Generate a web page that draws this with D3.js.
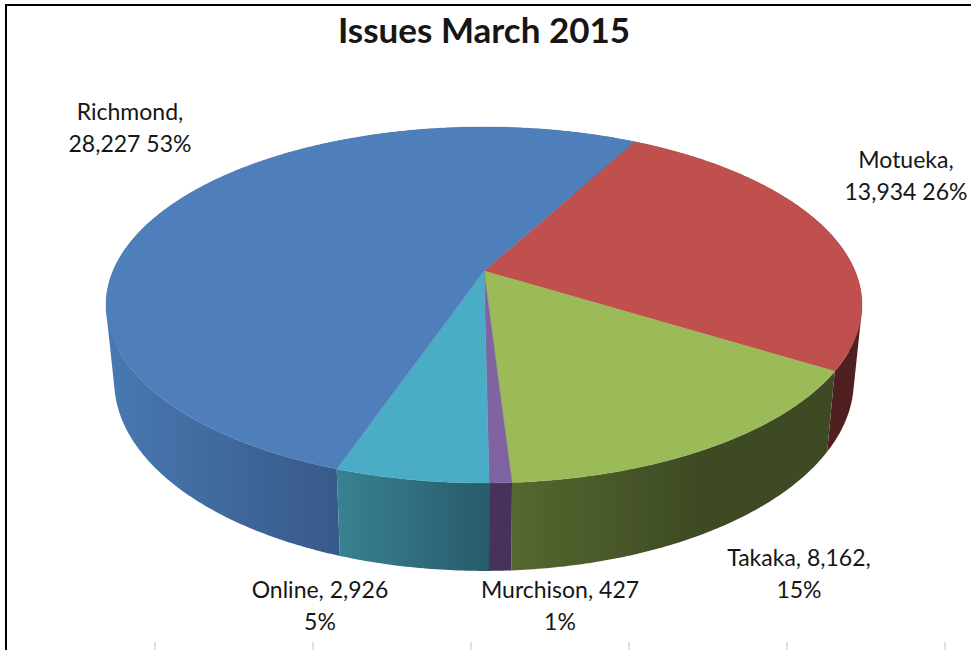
<!DOCTYPE html>
<html>
<head>
<meta charset="utf-8">
<title>Issues March 2015</title>
<script src="https://cdn.jsdelivr.net/npm/d3@7"></script>
<style>
  html, body { margin: 0; padding: 0; background: #fff; }
  svg { display: block; }
  text { font-family: Lato, "Open Sans", sans-serif; fill: #161616; }
</style>
</head>
<body>
<svg id="chart" width="971" height="650"></svg>
<script>
// Library issues per branch, clockwise from the Motueka slice
const branches = ["Motueka", "Takaka", "Murchison", "Online", "Richmond"];
const issues = [13934, 8162, 427, 2926, 28227];
const chartTitle = "Issues March 2015";

// Office palette for the top faces and two-stop shades for the walls
const topColours = ["#c0504d", "#9bbb59", "#8064a2", "#4bacc6", "#4f7fbb"];
const wallLight = ["#4f201f", "#56672f", "#46325a", "#388190", "#4778af"];
const wallDark = ["#4f201f", "#3d4a24", "#46325a", "#275b6b", "#38598a"];

const WIDTH = 971, HEIGHT = 650;
const svg = d3.select("#chart");
const defs = svg.append("defs");

// Perspective view of the disc: near edge is bigger than the far edge
const tilt = 0.191;
const topDisc = { cx: 484, cy: 271, a: 371, b: 171.5 };
const baseDisc = { cx: 484, cy: 344.7, a: 363, b: 183 };
function project(disc, angle) {
  const u = Math.sin(angle), v = -Math.cos(angle), w = 1 - tilt * v;
  return [disc.cx + disc.a * u / w, disc.cy + disc.b * v / w];
}

const rotation = 28.3 * Math.PI / 180;
const slices = d3.pie().sort(null).startAngle(rotation).endAngle(rotation + 2 * Math.PI)(issues);

const line = d3.line();
function arcAngles(a0, a1) {
  const n = Math.max(2, Math.ceil((a1 - a0) / 0.01));
  return d3.range(n + 1).map(i => a0 + (a1 - a0) * i / n);
}

// A wall is a run of thin quads joining the top rim to the base rim. Each quad is wound
// the same way so that the nonzero fill gives their union, silhouette included.
function wallPath(angles) {
  return d3.pairs(angles).map(([a, b]) => {
    const quad = [project(topDisc, a), project(topDisc, b), project(baseDisc, b), project(baseDisc, a)];
    if (d3.polygonArea(quad) < 0) quad.reverse();
    return line(quad) + "Z";
  }).join("");
}

// Walls first, back of the disc before the front; the top faces cover whatever is hidden
const wallOrder = d3.range(slices.length).sort((i, j) =>
  Math.cos((slices[j].startAngle + slices[j].endAngle) / 2) - Math.cos((slices[i].startAngle + slices[i].endAngle) / 2));

const walls = svg.append("g");
wallOrder.forEach(i => {
  const s = slices[i];
  const angles = arcAngles(s.startAngle, s.endAngle);

  // Shade runs left to right across the visible front of each wall
  const front = angles.map(a => project(baseDisc, a)).filter(p => p[1] > 300);
  const [x0, x1] = d3.extent(front, p => p[0]);
  const id = "wall-" + i;
  const grad = defs.append("linearGradient").attr("id", id)
    .attr("gradientUnits", "userSpaceOnUse")
    .attr("x1", x0).attr("x2", x1).attr("y1", 0).attr("y2", 0);
  grad.append("stop").attr("offset", 0).attr("stop-color", wallLight[i]);
  grad.append("stop").attr("offset", branches[i] === "Takaka" ? 0.6 : 1).attr("stop-color", wallDark[i]);

  walls.append("path")
    .attr("d", wallPath(angles))
    .attr("fill", `url(#${id})`);
});

// Top faces
const tops = svg.append("g");
slices.forEach((s, i) => {
  const rim = arcAngles(s.startAngle, s.endAngle).map(a => project(topDisc, a));
  tops.append("path")
    .attr("d", line([[topDisc.cx, topDisc.cy]].concat(rim)) + "Z")
    .attr("fill", topColours[i])
    .attr("stroke", topColours[i])
    .attr("stroke-width", 0.4);
});

// Data labels: name, issue count and share of the total
const total = d3.sum(issues);
const count = d3.format(",");
const share = d3.format(".0%");
const labelTexts = branches.map((name, i) => {
  const n = count(issues[i]), p = share(issues[i] / total);
  return name === "Takaka" ? [`${name}, ${n},`, p]
    : name === "Online" || name === "Murchison" ? [`${name}, ${n}`, p]
    : [`${name},`, `${n} ${p}`];
});
const labelAnchors = [[906, 168], [799, 566], [560, 598], [320, 598], [130, 120]];

const labels = svg.append("g").attr("font-size", 23).attr("text-anchor", "middle");
labelTexts.forEach((lines, i) => {
  lines.forEach((t, k) => {
    labels.append("text")
      .attr("x", labelAnchors[i][0])
      .attr("y", labelAnchors[i][1] + k * 32)
      .text(t);
  });
});

svg.append("text")
  .attr("x", 484).attr("y", 43)
  .attr("text-anchor", "middle")
  .attr("font-size", 35).attr("font-weight", 700)
  .text(chartTitle);

// Page frame along the top and left, and the grid stubs peeking in at the bottom
svg.append("path")
  .attr("d", d3.line()([[6, HEIGHT], [6, 5], [WIDTH, 5]]))
  .attr("fill", "none").attr("stroke", "#000").attr("stroke-width", 2);

const gridStub = d3.scaleLinear().domain([0, 5]).range([155, 945]);
svg.append("g").selectAll("line").data(d3.range(6)).join("line")
  .attr("x1", d => gridStub(d)).attr("x2", d => gridStub(d))
  .attr("y1", 642).attr("y2", HEIGHT)
  .attr("stroke", "#d9e1ec").attr("stroke-width", 2);
</script>
</body>
</html>
